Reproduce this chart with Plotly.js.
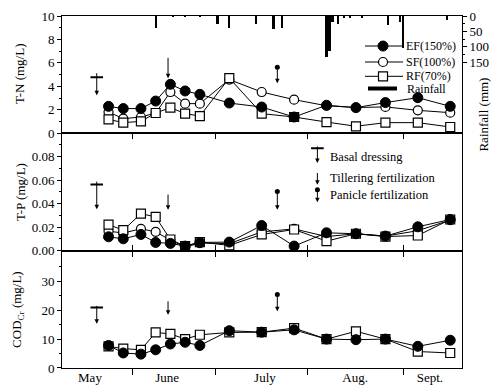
<!DOCTYPE html>
<html>
<head>
<meta charset="utf-8">
<script src="https://cdn.plot.ly/plotly-3.0.1.min.js"></script>
<style>html,body{margin:0;padding:0;background:#fff;}#chart{width:498px;height:386px;}</style>
</head>
<body>
<div id="chart"></div>
<script>
// Sampling days (days after 30 April)
const sampleDay = [23, 28, 34, 39, 44, 49, 54, 64, 75, 86, 97, 107, 117, 128, 139];

// T-N (mg/L)
const tnEF = [2.30, 2.11, 2.11, 2.75, 4.18, 3.61, 3.32, 2.58, 2.24, 1.39, 2.39, 2.19, 2.62, 3.04, 2.30];
const tnSF = [1.82, 1.25, 1.39, 1.73, 3.52, 2.53, 2.53, 4.58, 3.52, 2.87, 2.35, 2.20, 2.25, 1.96, 1.76];
const tnRF = [1.19, 0.91, 1.02, 1.73, 2.19, 1.68, 1.47, 4.71, 1.68, 1.39, 0.96, 0.60, 0.91, 0.91, 0.54];

// T-P (mg/L)
const tpEF = [0.0118, 0.0101, 0.0138, 0.0070, 0.0062, 0.0039, 0.0070, 0.0073, 0.0214, 0.0039, 0.0152, 0.0144, 0.0124, 0.0203, 0.0265];
const tpSF = [0.0166, 0.0150, 0.0186, 0.0160, 0.0090, 0.0030, 0.0065, 0.0060, 0.0160, 0.0185, 0.0120, 0.0144, 0.0124, 0.0170, 0.0260];
const tpRF = [0.0222, 0.0174, 0.0315, 0.0287, 0.0095, 0.0039, 0.0073, 0.0045, 0.0138, 0.0180, 0.0081, 0.0144, 0.0120, 0.0129, 0.0265];

// COD_Cr (mg/L)
const codEF = [7.8, 5.2, 4.8, 6.3, 8.3, 8.9, 7.8, 12.9, 12.4, 13.2, 10.0, 9.8, 10.0, 7.5, 9.6];
const codRF = [7.5, 6.7, 6.3, 12.3, 11.8, 10.0, 11.5, 12.3, 12.4, 13.8, 10.0, 12.7, 10.0, 5.7, 5.2];

// Daily rainfall (mm)
const rainDay = [39, 45, 49, 54, 60, 64, 73, 79, 82, 97, 98, 99, 101, 103, 105, 109, 118, 122, 123, 138];
const rainMm  = [39, 4, 4, 4, 25, 38, 27, 41, 39, 135, 115, 20, 25, 8, 8, 5, 28, 20, 105, 14];

// Month axis
const monthNames = ['May', 'June', 'July', 'Aug.', 'Sept.'];
const monthMid = [16.7, 42.9, 76.1, 106.7, 132.1];
const monthBoundary = [31, 59.2, 90.7, 123];

// Series legend labels
const seriesNames = ['EF(150%)', 'SF(100%)', 'RF(70%)', 'Rainfall'];
// Fertilization legend labels
const fertNames = ['Basal dressing', 'Tillering fertilization', 'Panicle fertilization'];

// Fertilization events (day)
const basalDay = 19;
const tilleringDay = 43.2;
const panicleDay = 80.3;

const F = 'Liberation Serif, Times New Roman, serif';
const XR = [7.2, 143];

const lineSty = {color: '#000', width: 1};
const mkEF = {symbol: 'circle', size: 10, color: '#000', opacity: 1, line: {color: '#000', width: 1}};
const mkSF = {symbol: 'circle', size: 9, color: '#fff', opacity: 1, line: {color: '#000', width: 1.2}};
const mkRF = {symbol: 'square', size: 9, color: '#fff', opacity: 1, line: {color: '#000', width: 1.2}};

function ser(y, xa, ya, mk) {
  return {x: sampleDay, y: y, xaxis: xa, yaxis: ya, type: 'scatter', mode: 'lines+markers',
    line: lineSty, marker: mk, showlegend: false, hoverinfo: 'skip'};
}

const traces = [
  {x: rainDay, y: rainMm, xaxis: 'x', yaxis: 'y4', type: 'bar', width: 0.75,
   marker: {color: '#000', line: {width: 0}}, showlegend: false, hoverinfo: 'skip'},
  ser(tnSF, 'x', 'y', mkSF),
  ser(tnRF, 'x', 'y', mkRF),
  ser(tnEF, 'x', 'y', mkEF),
  ser(tpSF, 'x2', 'y2', mkSF),
  ser(tpRF, 'x2', 'y2', mkRF),
  ser(tpEF, 'x2', 'y2', mkEF),
  ser(codRF, 'x3', 'y3', mkRF),
  ser(codEF, 'x3', 'y3', mkEF),
  {x: sampleDay, y: codEF, xaxis: 'x4', yaxis: 'y3', type: 'scatter', mode: 'markers',
   opacity: 0, showlegend: false, hoverinfo: 'skip'}
];

// Custom legend (in a 0-1 overlay frame over the top panel)
const legRowY = [0.744, 0.608, 0.486, 0.381];
const legMk = [mkEF, mkSF, mkRF];
for (let i = 0; i < 3; i++) {
  traces.push({x: [0.7575, 0.8525], y: [legRowY[i], legRowY[i]], xaxis: 'x5', yaxis: 'y5',
    type: 'scatter', mode: 'lines', line: lineSty, showlegend: false, hoverinfo: 'skip'});
  traces.push({x: [0.8025], y: [legRowY[i]], xaxis: 'x5', yaxis: 'y5',
    type: 'scatter', mode: 'markers', marker: legMk[i], showlegend: false, hoverinfo: 'skip'});
}
traces.push({x: [0.765, 0.8375], y: [legRowY[3], legRowY[3]], xaxis: 'x5', yaxis: 'y5', type: 'scatter', mode: 'lines',
  line: {color: '#000', width: 4}, showlegend: false, hoverinfo: 'skip'});

// Fertilization symbol heads (crossbar for basal, dot for panicle)
const crossX = [basalDay, basalDay, basalDay, 93.9];
const crossY = [4.77, 0.0563, 20.9, 0.0871];
const crossYA = ['y', 'y2', 'y3', 'y2'];
const crossXA = ['x', 'x2', 'x3', 'x2'];
for (let i = 0; i < crossX.length; i++) {
  traces.push({x: [crossX[i]], y: [crossY[i]], xaxis: crossXA[i], yaxis: crossYA[i], type: 'scatter', mode: 'markers',
    marker: {symbol: 'line-ew', size: 9, line: {color: '#000', width: 2}}, showlegend: false, hoverinfo: 'skip'});
}
const dotX = [panicleDay, panicleDay, panicleDay, 93.9];
const dotY = [5.63, 0.0504, 25.4, 0.0518];
const dotYA = ['y', 'y2', 'y3', 'y2'];
const dotXA = ['x', 'x2', 'x3', 'x2'];
for (let i = 0; i < dotX.length; i++) {
  traces.push({x: [dotX[i]], y: [dotY[i]], xaxis: dotXA[i], yaxis: dotYA[i], type: 'scatter', mode: 'markers',
    marker: {symbol: 'circle', size: 5, color: '#000'}, showlegend: false, hoverinfo: 'skip'});
}

function arrow(x, head, tail, xr, yr) {
  return {x: x, y: head, ax: x, ay: tail, xref: xr, yref: yr, axref: xr, ayref: yr,
    text: '', showarrow: true, arrowhead: 2, arrowsize: 0.9, arrowwidth: 1, arrowcolor: '#000'};
}
function txt(x, y, s, xr, yr, extra) {
  return Object.assign({x: x, y: y, xref: xr, yref: yr, text: s, showarrow: false,
    xanchor: 'left', yanchor: 'middle', font: {family: F, size: 12.5, color: '#000'}}, extra || {});
}

const annotations = [
  arrow(basalDay, 3.24, 5.25, 'x', 'y'),
  arrow(tilleringDay, 4.69, 6.56, 'x', 'y'),
  arrow(panicleDay, 4.26, 5.63, 'x', 'y'),
  arrow(basalDay, 0.0352, 0.0600, 'x2', 'y2'),
  arrow(tilleringDay, 0.0349, 0.0490, 'x2', 'y2'),
  arrow(panicleDay, 0.0349, 0.0504, 'x2', 'y2'),
  arrow(basalDay, 15.3, 22.0, 'x3', 'y3'),
  arrow(tilleringDay, 18.4, 23.6, 'x3', 'y3'),
  arrow(panicleDay, 19.6, 25.4, 'x3', 'y3'),
  // fertilization legend
  arrow(93.9, 0.0745, 0.0899, 'x2', 'y2'),
  arrow(93.9, 0.0560, 0.0673, 'x2', 'y2'),
  arrow(93.9, 0.0411, 0.0518, 'x2', 'y2'),
  txt(97.6, 0.0800, fertNames[0], 'x2', 'y2'),
  txt(97.6, 0.0622, fertNames[1], 'x2', 'y2'),
  txt(97.6, 0.0470, fertNames[2], 'x2', 'y2'),
  // series legend texts
  txt(0.855, legRowY[0], seriesNames[0], 'x5', 'y5', {font: {family: F, size: 12, color: '#000'}}),
  txt(0.855, legRowY[1], seriesNames[1], 'x5', 'y5', {font: {family: F, size: 12, color: '#000'}}),
  txt(0.855, legRowY[2], seriesNames[2], 'x5', 'y5', {font: {family: F, size: 12, color: '#000'}}),
  txt(0.8575, legRowY[3], seriesNames[3], 'x5', 'y5', {font: {family: F, size: 12, color: '#000'}}),
  // axis titles
  {x: -0.1075, y: 0.835, xref: 'paper', yref: 'paper', xanchor: 'center', yanchor: 'middle', text: 'T-N (mg/L)', textangle: -90, showarrow: false, font: {family: F, size: 13, color: '#000'}},
  {x: -0.105, y: 0.5, xref: 'paper', yref: 'paper', xanchor: 'center', yanchor: 'middle', text: 'T-P (mg/L)', textangle: -90, showarrow: false, font: {family: F, size: 13, color: '#000'}},
  {x: -0.11, y: 0.165, xref: 'paper', yref: 'paper', xanchor: 'center', yanchor: 'middle', text: 'COD<sub>Cr</sub> (mg/L)', textangle: -90, showarrow: false, font: {family: F, size: 13, color: '#000'}},
  {x: 1.055, y: 0.72, xref: 'paper', yref: 'paper', xanchor: 'center', yanchor: 'middle', text: 'Rainfall (mm)', textangle: -90, showarrow: false, font: {family: F, size: 13, color: '#000'}}
];

const tickFont = {family: F, size: 13, color: '#000'};
const yBase = {showline: true, linecolor: '#000', linewidth: 1, mirror: true, showgrid: false, zeroline: false,
  ticks: 'outside', ticklen: 4, tickcolor: '#000', tickfont: tickFont};

const layout = {
  width: 498, height: 386,
  margin: {l: 62, r: 36, t: 16, b: 18},
  paper_bgcolor: '#fff', plot_bgcolor: '#fff',
  showlegend: false,
  bargap: 0,
  xaxis: {domain: [0, 1], anchor: 'y', range: XR, showline: true, linecolor: '#000', mirror: true,
    showgrid: false, zeroline: false, ticks: '', showticklabels: false},
  xaxis2: {domain: [0, 1], anchor: 'y2', range: XR, showline: true, linecolor: '#000', mirror: 'ticks',
    showgrid: false, zeroline: false, tickmode: 'array', tickvals: monthBoundary, ticks: 'inside', ticklen: 6,
    tickcolor: '#000', showticklabels: false},
  xaxis3: {domain: [0, 1], anchor: 'y3', side: 'top', range: XR, showline: true, linecolor: '#000', mirror: true,
    showgrid: false, zeroline: false, tickmode: 'array', tickvals: monthBoundary, ticks: 'inside', ticklen: 6,
    tickcolor: '#000', showticklabels: false},
  xaxis4: {overlaying: 'x3', anchor: 'y3', side: 'bottom', range: XR, showline: false, showgrid: false, zeroline: false,
    tickmode: 'array', tickvals: monthMid, ticktext: monthNames, ticks: '', tickfont: {family: F, size: 13, color: '#000'},
    minor: {tickmode: 'array', tickvals: monthBoundary, ticks: 'outside', ticklen: 6, tickcolor: '#000', showgrid: false}},
  xaxis5: {overlaying: 'x', anchor: 'y', range: [0, 1], visible: false, fixedrange: true},
  yaxis5: {overlaying: 'y', anchor: 'x', range: [0, 1], visible: false, fixedrange: true},
  yaxis: Object.assign({}, yBase, {domain: [0.6667, 1], anchor: 'x', range: [0, 10], tickmode: 'linear', tick0: 0, dtick: 2,
    minor: {dtick: 1, ticks: 'outside', ticklen: 2, tickcolor: '#000', showgrid: false}}),
  yaxis4: {overlaying: 'y', side: 'right', anchor: 'x', range: [382, 0], showline: true, linecolor: '#000',
    showgrid: false, zeroline: false, tickmode: 'array', tickvals: [0, 50, 100, 150], ticks: 'outside', ticklen: 4,
    tickcolor: '#000', tickfont: tickFont,
    minor: {tickmode: 'array', tickvals: [25, 75, 125], ticks: 'outside', ticklen: 2, tickcolor: '#000', showgrid: false}},
  yaxis2: Object.assign({}, yBase, {domain: [0.3333, 0.6667], anchor: 'x2', range: [0, 0.0998], tickmode: 'array',
    tickvals: [0, 0.02, 0.04, 0.06, 0.08], ticktext: ['0.00', '0.02', '0.04', '0.06', '0.08'],
    minor: {tickmode: 'array', tickvals: [0.01, 0.03, 0.05, 0.07, 0.09], ticks: 'outside', ticklen: 2, tickcolor: '#000', showgrid: false}}),
  yaxis3: Object.assign({}, yBase, {domain: [0, 0.3333], anchor: 'x3', range: [0, 40.6], tickmode: 'array',
    tickvals: [0, 10, 20, 30],
    minor: {tickmode: 'array', tickvals: [5, 15, 25, 35], ticks: 'outside', ticklen: 2, tickcolor: '#000', showgrid: false}}),
  annotations: annotations
};

Plotly.newPlot('chart', traces, layout, {displayModeBar: false, staticPlot: true});
</script>
</body>
</html>
